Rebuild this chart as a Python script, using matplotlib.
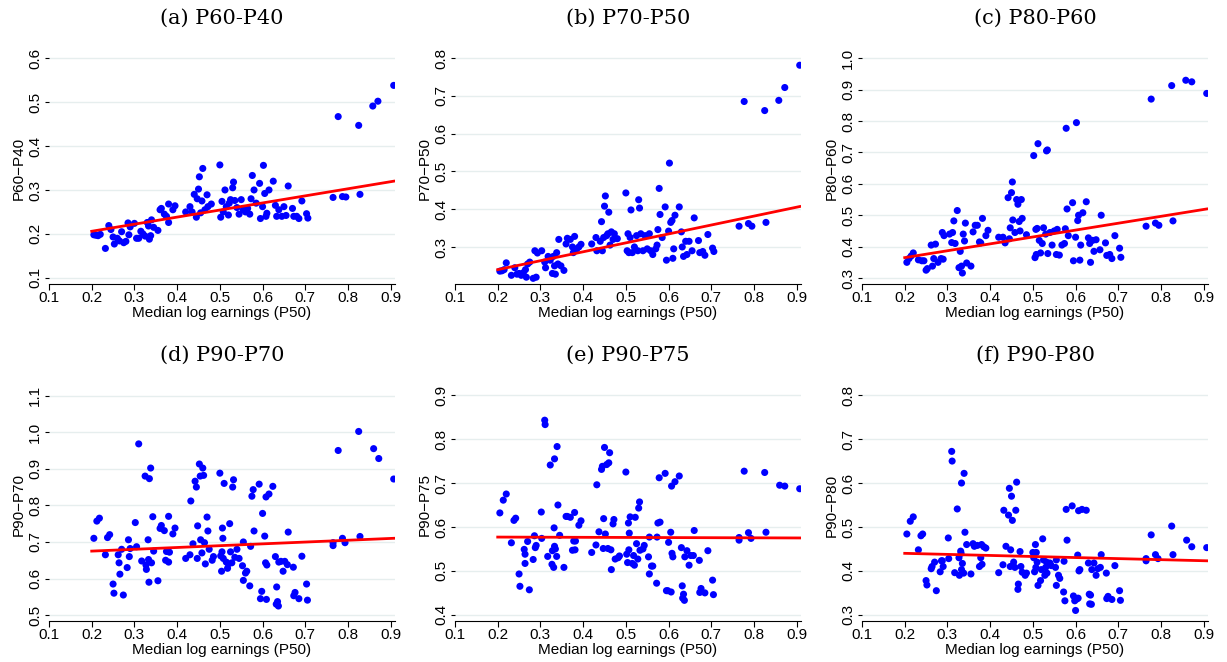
import numpy as np
import matplotlib
matplotlib.use("Agg")
import matplotlib.pyplot as plt

# (x, y) pairs
pts_a = [(0.205,0.198),(0.21,0.197),(0.215,0.196),(0.22,0.199),(0.232,0.167),(0.24,0.219),(0.245,0.21),(0.25,0.193),(0.253,0.177),(0.26,0.19),(0.265,0.184),(0.27,0.205),(0.275,0.18),(0.28,0.183),(0.285,0.225),(0.287,0.198),(0.29,0.216),(0.3,0.224),(0.305,0.19),(0.31,0.19),(0.315,0.206),(0.32,0.2),(0.325,0.195),(0.33,0.226),(0.333,0.218),(0.335,0.188),(0.338,0.196),(0.34,0.232),(0.345,0.215),(0.355,0.208),(0.36,0.255),(0.363,0.258),(0.37,0.245),(0.375,0.24),(0.38,0.226),(0.38,0.268),(0.39,0.255),(0.395,0.264),(0.42,0.25),(0.43,0.262),(0.435,0.25),(0.44,0.29),(0.445,0.238),(0.447,0.28),(0.45,0.302),(0.452,0.33),(0.455,0.248),(0.458,0.275),(0.46,0.349),(0.465,0.255),(0.47,0.289),(0.472,0.262),(0.48,0.268),(0.5,0.357),(0.502,0.238),(0.505,0.274),(0.508,0.25),(0.512,0.3),(0.515,0.262),(0.52,0.243),(0.522,0.27),(0.525,0.278),(0.53,0.305),(0.532,0.318),(0.535,0.276),(0.54,0.26),(0.545,0.245),(0.55,0.278),(0.555,0.255),(0.56,0.25),(0.565,0.258),(0.57,0.245),(0.573,0.28),(0.576,0.333),(0.58,0.3),(0.585,0.27),(0.593,0.315),(0.595,0.235),(0.6,0.262),(0.602,0.356),(0.605,0.292),(0.608,0.24),(0.61,0.247),(0.615,0.3),(0.625,0.32),(0.63,0.265),(0.633,0.24),(0.638,0.255),(0.645,0.24),(0.65,0.262),(0.655,0.242),(0.66,0.309),(0.67,0.258),(0.673,0.24),(0.68,0.24),(0.685,0.235),(0.692,0.275),(0.703,0.246),(0.706,0.236),(0.765,0.283),(0.787,0.285),(0.795,0.284),(0.777,0.467),(0.825,0.447),(0.828,0.29),(0.858,0.491),(0.87,0.502),(0.907,0.538)]

pts_b = [(0.205,0.236),(0.21,0.237),(0.215,0.24),(0.22,0.258),(0.232,0.225),(0.24,0.245),(0.245,0.228),(0.25,0.23),(0.255,0.225),(0.26,0.232),(0.265,0.24),(0.267,0.22),(0.27,0.255),(0.275,0.26),(0.283,0.217),(0.287,0.29),(0.29,0.22),(0.293,0.284),(0.303,0.29),(0.31,0.26),(0.312,0.245),(0.318,0.275),(0.323,0.265),(0.328,0.23),(0.33,0.275),(0.333,0.25),(0.335,0.228),(0.338,0.285),(0.341,0.255),(0.343,0.32),(0.348,0.25),(0.355,0.238),(0.36,0.308),(0.363,0.323),(0.37,0.32),(0.375,0.3),(0.377,0.285),(0.38,0.328),(0.385,0.295),(0.39,0.3),(0.395,0.307),(0.42,0.308),(0.43,0.325),(0.432,0.29),(0.44,0.315),(0.443,0.367),(0.445,0.29),(0.448,0.325),(0.45,0.408),(0.452,0.435),(0.455,0.33),(0.458,0.335),(0.46,0.392),(0.463,0.305),(0.466,0.34),(0.47,0.32),(0.473,0.335),(0.48,0.322),(0.5,0.443),(0.503,0.29),(0.505,0.335),(0.507,0.285),(0.51,0.325),(0.512,0.398),(0.515,0.285),(0.52,0.3),(0.525,0.33),(0.528,0.29),(0.53,0.425),(0.532,0.403),(0.535,0.335),(0.54,0.29),(0.545,0.33),(0.55,0.295),(0.555,0.335),(0.558,0.29),(0.563,0.28),(0.57,0.295),(0.573,0.305),(0.575,0.346),(0.578,0.455),(0.58,0.386),(0.585,0.325),(0.592,0.406),(0.595,0.265),(0.6,0.342),(0.602,0.522),(0.605,0.365),(0.608,0.37),(0.61,0.27),(0.612,0.295),(0.615,0.384),(0.625,0.406),(0.63,0.34),(0.632,0.3),(0.635,0.275),(0.64,0.315),(0.643,0.28),(0.648,0.315),(0.655,0.29),(0.66,0.377),(0.67,0.317),(0.673,0.285),(0.68,0.288),(0.685,0.278),(0.692,0.333),(0.703,0.297),(0.706,0.288),(0.765,0.355),(0.787,0.362),(0.795,0.355),(0.777,0.685),(0.825,0.661),(0.828,0.365),(0.858,0.688),(0.872,0.722),(0.907,0.781)]

pts_c = [(0.205,0.35),(0.21,0.362),(0.215,0.37),(0.22,0.38),(0.232,0.358),(0.24,0.355),(0.245,0.355),(0.25,0.325),(0.253,0.33),(0.262,0.405),(0.265,0.338),(0.268,0.362),(0.272,0.408),(0.278,0.35),(0.285,0.362),(0.288,0.445),(0.29,0.36),(0.292,0.435),(0.305,0.44),(0.31,0.413),(0.312,0.445),(0.315,0.482),(0.318,0.41),(0.323,0.515),(0.327,0.333),(0.33,0.385),(0.333,0.338),(0.335,0.316),(0.337,0.44),(0.34,0.418),(0.342,0.475),(0.345,0.348),(0.355,0.338),(0.36,0.447),(0.365,0.468),(0.37,0.468),(0.375,0.415),(0.378,0.412),(0.382,0.49),(0.39,0.435),(0.395,0.452),(0.42,0.43),(0.43,0.43),(0.435,0.412),(0.442,0.556),(0.445,0.425),(0.447,0.46),(0.45,0.572),(0.452,0.606),(0.453,0.485),(0.458,0.445),(0.462,0.55),(0.465,0.535),(0.468,0.48),(0.47,0.45),(0.473,0.55),(0.475,0.49),(0.485,0.438),(0.502,0.69),(0.505,0.365),(0.507,0.455),(0.508,0.375),(0.51,0.458),(0.512,0.728),(0.515,0.42),(0.518,0.38),(0.522,0.41),(0.525,0.46),(0.53,0.44),(0.532,0.705),(0.534,0.708),(0.535,0.378),(0.54,0.445),(0.545,0.405),(0.55,0.45),(0.555,0.375),(0.557,0.455),(0.562,0.373),(0.568,0.405),(0.574,0.41),(0.576,0.457),(0.578,0.777),(0.58,0.52),(0.583,0.435),(0.593,0.54),(0.595,0.355),(0.6,0.43),(0.602,0.795),(0.605,0.483),(0.607,0.5),(0.61,0.357),(0.612,0.405),(0.617,0.508),(0.625,0.543),(0.63,0.428),(0.633,0.41),(0.635,0.35),(0.64,0.42),(0.643,0.385),(0.648,0.422),(0.657,0.39),(0.66,0.5),(0.67,0.412),(0.673,0.372),(0.68,0.375),(0.685,0.362),(0.692,0.435),(0.703,0.395),(0.706,0.366),(0.765,0.465),(0.787,0.475),(0.795,0.468),(0.777,0.87),(0.825,0.913),(0.828,0.482),(0.858,0.93),(0.872,0.925),(0.907,0.888)]

pts_d = [(0.205,0.71),(0.212,0.757),(0.218,0.765),(0.232,0.665),(0.237,0.712),(0.242,0.72),(0.25,0.585),(0.252,0.56),(0.262,0.665),(0.264,0.643),(0.266,0.612),(0.27,0.68),(0.274,0.555),(0.283,0.63),(0.286,0.706),(0.288,0.66),(0.29,0.682),(0.302,0.753),(0.305,0.687),(0.31,0.968),(0.317,0.648),(0.325,0.88),(0.327,0.637),(0.328,0.625),(0.332,0.706),(0.333,0.652),(0.334,0.59),(0.335,0.873),(0.338,0.902),(0.34,0.643),(0.343,0.769),(0.345,0.675),(0.355,0.594),(0.36,0.737),(0.363,0.745),(0.37,0.731),(0.373,0.65),(0.375,0.674),(0.38,0.645),(0.38,0.77),(0.382,0.672),(0.39,0.722),(0.395,0.738),(0.42,0.655),(0.43,0.665),(0.432,0.812),(0.437,0.695),(0.442,0.866),(0.445,0.85),(0.447,0.655),(0.448,0.744),(0.452,0.913),(0.454,0.88),(0.455,0.706),(0.458,0.67),(0.46,0.902),(0.462,0.882),(0.464,0.698),(0.466,0.64),(0.47,0.768),(0.472,0.73),(0.475,0.68),(0.482,0.65),(0.485,0.66),(0.5,0.888),(0.502,0.662),(0.504,0.62),(0.505,0.673),(0.506,0.738),(0.507,0.71),(0.508,0.655),(0.51,0.86),(0.515,0.645),(0.518,0.628),(0.52,0.64),(0.523,0.75),(0.525,0.673),(0.528,0.643),(0.53,0.85),(0.532,0.87),(0.535,0.658),(0.54,0.68),(0.545,0.655),(0.553,0.635),(0.555,0.7),(0.555,0.595),(0.56,0.615),(0.563,0.62),(0.57,0.58),(0.572,0.688),(0.575,0.825),(0.578,0.843),(0.58,0.73),(0.592,0.858),(0.595,0.545),(0.598,0.565),(0.6,0.778),(0.605,0.716),(0.607,0.643),(0.608,0.823),(0.609,0.543),(0.61,0.637),(0.615,0.831),(0.624,0.852),(0.63,0.66),(0.632,0.53),(0.633,0.577),(0.635,0.537),(0.637,0.525),(0.638,0.645),(0.643,0.647),(0.648,0.62),(0.652,0.647),(0.658,0.638),(0.66,0.727),(0.672,0.631),(0.673,0.553),(0.676,0.562),(0.685,0.545),(0.692,0.661),(0.703,0.585),(0.705,0.541),(0.765,0.69),(0.765,0.698),(0.787,0.71),(0.793,0.698),(0.777,0.95),(0.825,1.002),(0.828,0.715),(0.86,0.955),(0.872,0.928),(0.907,0.872)]

pts_e = [(0.205,0.632),(0.213,0.661),(0.22,0.675),(0.232,0.564),(0.238,0.615),(0.242,0.62),(0.25,0.493),(0.252,0.465),(0.262,0.549),(0.264,0.538),(0.264,0.517),(0.27,0.567),(0.274,0.457),(0.283,0.526),(0.286,0.58),(0.288,0.553),(0.29,0.558),(0.302,0.634),(0.303,0.574),(0.31,0.843),(0.311,0.833),(0.317,0.533),(0.323,0.741),(0.327,0.515),(0.328,0.546),(0.331,0.508),(0.332,0.598),(0.333,0.755),(0.333,0.556),(0.335,0.55),(0.338,0.533),(0.339,0.783),(0.341,0.65),(0.345,0.581),(0.355,0.508),(0.36,0.624),(0.363,0.624),(0.37,0.622),(0.375,0.547),(0.378,0.568),(0.38,0.633),(0.381,0.548),(0.382,0.568),(0.39,0.604),(0.395,0.614),(0.42,0.542),(0.43,0.559),(0.432,0.696),(0.437,0.589),(0.443,0.731),(0.445,0.738),(0.447,0.551),(0.448,0.619),(0.45,0.781),(0.452,0.584),(0.455,0.742),(0.458,0.551),(0.46,0.746),(0.462,0.769),(0.465,0.548),(0.466,0.503),(0.47,0.607),(0.472,0.617),(0.475,0.527),(0.482,0.53),(0.485,0.534),(0.5,0.725),(0.502,0.538),(0.504,0.519),(0.506,0.609),(0.507,0.548),(0.508,0.586),(0.51,0.623),(0.515,0.517),(0.518,0.535),(0.52,0.513),(0.522,0.622),(0.525,0.562),(0.528,0.527),(0.53,0.643),(0.532,0.657),(0.533,0.547),(0.54,0.55),(0.543,0.558),(0.553,0.532),(0.555,0.493),(0.555,0.577),(0.56,0.511),(0.563,0.511),(0.572,0.472),(0.573,0.577),(0.575,0.609),(0.578,0.712),(0.58,0.611),(0.592,0.722),(0.595,0.455),(0.598,0.455),(0.6,0.565),(0.605,0.588),(0.606,0.452),(0.607,0.693),(0.608,0.54),(0.61,0.532),(0.615,0.703),(0.625,0.716),(0.63,0.553),(0.632,0.466),(0.633,0.438),(0.635,0.447),(0.637,0.433),(0.638,0.532),(0.643,0.546),(0.648,0.513),(0.652,0.535),(0.658,0.535),(0.66,0.592),(0.672,0.524),(0.673,0.451),(0.676,0.46),(0.685,0.45),(0.692,0.546),(0.703,0.479),(0.705,0.446),(0.765,0.57),(0.765,0.576),(0.787,0.587),(0.793,0.574),(0.777,0.727),(0.825,0.724),(0.828,0.588),(0.86,0.695),(0.872,0.693),(0.907,0.687)]

pts_f = [(0.205,0.484),(0.213,0.513),(0.22,0.523),(0.232,0.448),(0.238,0.48),(0.242,0.484),(0.25,0.378),(0.252,0.368),(0.262,0.405),(0.264,0.41),(0.27,0.42),(0.274,0.355),(0.283,0.398),(0.286,0.423),(0.288,0.423),(0.29,0.41),(0.302,0.475),(0.303,0.428),(0.31,0.672),(0.311,0.65),(0.317,0.396),(0.323,0.541),(0.327,0.43),(0.328,0.39),(0.331,0.445),(0.332,0.44),(0.333,0.6),(0.333,0.403),(0.335,0.417),(0.338,0.395),(0.339,0.622),(0.341,0.488),(0.345,0.46),(0.355,0.393),(0.36,0.462),(0.363,0.456),(0.37,0.458),(0.375,0.41),(0.378,0.43),(0.38,0.46),(0.381,0.415),(0.385,0.455),(0.39,0.452),(0.42,0.396),(0.43,0.414),(0.432,0.538),(0.437,0.456),(0.443,0.527),(0.445,0.588),(0.447,0.41),(0.448,0.448),(0.45,0.57),(0.452,0.515),(0.455,0.42),(0.458,0.408),(0.46,0.538),(0.462,0.602),(0.465,0.358),(0.466,0.37),(0.47,0.444),(0.472,0.41),(0.475,0.397),(0.482,0.39),(0.485,0.395),(0.5,0.442),(0.502,0.43),(0.504,0.398),(0.506,0.46),(0.507,0.408),(0.508,0.442),(0.51,0.42),(0.512,0.367),(0.518,0.378),(0.52,0.403),(0.523,0.473),(0.525,0.425),(0.528,0.39),(0.53,0.408),(0.532,0.42),(0.533,0.395),(0.54,0.418),(0.543,0.412),(0.553,0.408),(0.555,0.367),(0.555,0.425),(0.56,0.39),(0.563,0.383),(0.572,0.352),(0.573,0.422),(0.575,0.332),(0.578,0.54),(0.58,0.47),(0.592,0.548),(0.595,0.343),(0.598,0.332),(0.6,0.31),(0.603,0.336),(0.605,0.436),(0.606,0.338),(0.607,0.537),(0.608,0.4),(0.61,0.403),(0.615,0.54),(0.625,0.538),(0.63,0.418),(0.632,0.347),(0.633,0.325),(0.635,0.345),(0.637,0.324),(0.638,0.403),(0.643,0.418),(0.648,0.39),(0.652,0.405),(0.658,0.408),(0.66,0.437),(0.672,0.395),(0.673,0.337),(0.676,0.342),(0.685,0.335),(0.692,0.412),(0.703,0.355),(0.705,0.333),(0.765,0.423),(0.765,0.428),(0.787,0.437),(0.793,0.428),(0.777,0.482),(0.825,0.502),(0.828,0.437),(0.86,0.47),(0.872,0.455),(0.907,0.453)]

# fitted line values at x = 0.2 and x = 0.907
fit_x = [0.2, 0.907]
fit_y = [(0.206, 0.320), (0.240, 0.407), (0.365, 0.520),
         (0.675, 0.710), (0.577, 0.575), (0.440, 0.423)]

titles = ["(a) P60-P40", "(b) P70-P50", "(c) P80-P60", "(d) P90-P70", "(e) P90-P75", "(f) P90-P80"]
ylabels = ["P60\u2212P40", "P70\u2212P50", "P80\u2212P60", "P90\u2212P70", "P90\u2212P75", "P90\u2212P80"]
yticks = [[0.1, 0.2, 0.3, 0.4, 0.5, 0.6],
          [0.3, 0.4, 0.5, 0.6, 0.7, 0.8],
          [0.3, 0.4, 0.5, 0.6, 0.7, 0.8, 0.9, 1.0],
          [0.5, 0.6, 0.7, 0.8, 0.9, 1.0, 1.1],
          [0.4, 0.5, 0.6, 0.7, 0.8, 0.9],
          [0.3, 0.4, 0.5, 0.6, 0.7, 0.8]]
ylims = [(0.086, 0.614), (0.202, 0.816), (0.281, 1.02), (0.484, 1.118), (0.386, 0.914), (0.286, 0.814)]
all_pts = [pts_a, pts_b, pts_c, pts_d, pts_e, pts_f]
xticks = [0.1, 0.2, 0.3, 0.4, 0.5, 0.6, 0.7, 0.8, 0.9]

W, H = 1227, 662
fig = plt.figure(figsize=(W / 100, H / 100), dpi=100)
plt.rcParams['font.family'] = ['Liberation Sans', 'DejaVu Sans']

lefts = [49, 455, 862]
rows = [(52, 284), (389, 621)]
width = 346

for i in range(6):
    r, c = divmod(i, 3)
    top, bot = rows[r]
    ax = fig.add_axes([lefts[c] / W, 1 - bot / H, width / W, (bot - top) / H])
    x = [p[0] for p in all_pts[i]]
    y = [p[1] for p in all_pts[i]]
    ax.scatter(x, y, s=26, color='#0000ff', edgecolors='none', zorder=3)
    ax.plot(fit_x, fit_y[i], color='red', lw=2, zorder=4)
    ax.set_xlim(0.1, 0.91)
    ax.set_ylim(*ylims[i])
    ax.set_xticks(xticks)
    ax.set_xticklabels([f"{t:.1f}" for t in xticks], fontsize=11)
    ax.set_yticks(yticks[i])
    ax.set_yticklabels([f"{t:.1f}" for t in yticks[i]], fontsize=11, rotation=90, va='center')
    ax.grid(axis='y', color='#e6eeee', lw=1)
    ax.set_axisbelow(True)
    for s in ['top', 'right', 'left']:
        ax.spines[s].set_visible(False)
    ax.tick_params(axis='y', length=3, pad=2)
    ax.tick_params(axis='x', length=4, pad=1)
    ax.set_xlabel("Median log earnings (P50)", fontsize=11, labelpad=1)
    ax.set_ylabel(ylabels[i], fontsize=11, labelpad=2)
    ax.set_title(titles[i], fontsize=15, family=['DejaVu Serif'], pad=20)

fig.savefig("out.png", dpi=100)
